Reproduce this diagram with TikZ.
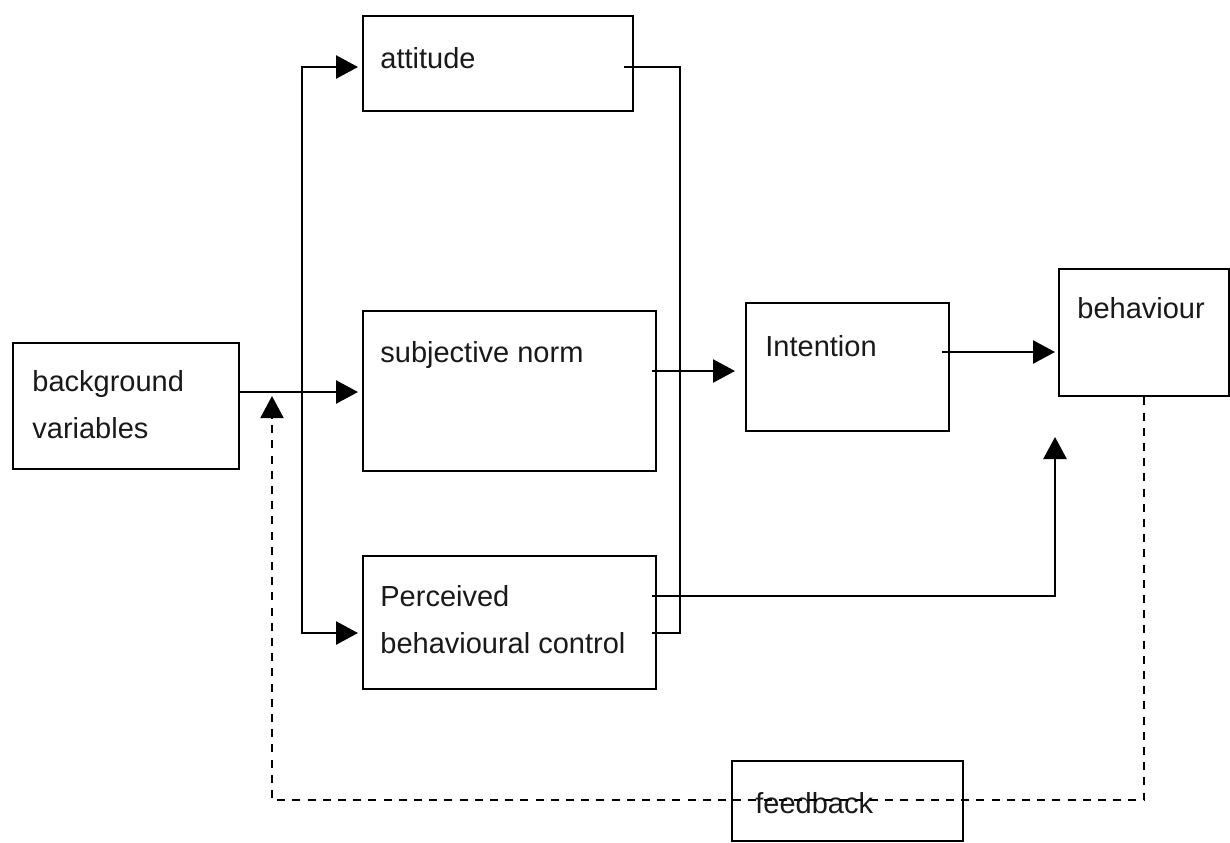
\documentclass[tikz,border=0pt]{standalone}
\usepackage{fontspec}
\setmainfont{Liberation Sans}
\usetikzlibrary{arrows.meta}
\begin{document}
\begin{tikzpicture}[x=0.5pt,y=-0.5pt,
  box/.style={draw,line width=1.2pt,inner sep=0pt,anchor=north west},
  lbl/.style={anchor=base west,inner sep=0pt,text=black!90,font=\fontsize{14.5}{23}\selectfont},
  conn/.style={line width=1.25pt},
  arr/.style={conn,-{Triangle[length=11pt,width=11.5pt]}},
  fb/.style={line width=1pt,dash pattern=on 4pt off 3.6pt,-{Triangle[length=11pt,width=11.5pt]}}]
\useasboundingbox (0,0) rectangle (1230,842);
% boxes
\node[box,minimum width=135pt,minimum height=47.5pt] (att) at (362,15) {};
\node[box,minimum width=146.5pt,minimum height=80pt] (sn) at (362,310) {};
\node[box,minimum width=146.5pt,minimum height=66.5pt] (pbc) at (362,555) {};
\node[box,minimum width=113pt,minimum height=63pt] (bg) at (12,342) {};
\node[box,minimum width=101.5pt,minimum height=64pt] (int) at (745,302) {};
\node[box,minimum width=85pt,minimum height=63.5pt] (beh) at (1058,268) {};
\node[box,minimum width=115.5pt,minimum height=40pt] (fbk) at (731,760) {};
% labels
\node[lbl] (t-att) at (380,68) {attitude};
\node[lbl] (t-sn) at (380,362) {subjective norm};
\node[lbl] (t-pbc1) at (380,606) {Perceived};
\node[lbl] (t-pbc2) at (380,653) {behavioural control};
\node[lbl] (t-bg1) at (32,391) {background};
\node[lbl] (t-bg2) at (32,438) {variables};
\node[lbl] (t-int) at (765,356) {Intention};
\node[lbl] (t-beh) at (1077,318) {behaviour};
\node[lbl] (t-fb) at (755,813) {feedback};
% junction coordinates
\coordinate (j) at (302,392);
\coordinate (rl) at (680,67);
% connectors
\draw[arr] (bg.east |- j) -- ([xshift=-2pt]sn.west |- j);
\draw[arr] (j) |- ([xshift=-2pt]att.west |- rl);
\draw[arr] (j) |- ([xshift=-2pt]pbc.west |- 0,633);
\draw[conn] ([xshift=-5pt]att.east |- rl) -- (rl) |- ([xshift=-2.5pt]pbc.east |- 0,633);
\draw[arr] ([xshift=-2.5pt]sn.east |- 0,371) -- ([xshift=-5pt]int.west |- 0,371);
\draw[arr] ([xshift=-4pt]int.east |- 0,352) -- ([xshift=-1.5pt]beh.west |- 0,352);
\draw[arr] ([xshift=-2.5pt]pbc.east |- 0,596) -| (1055,437);
\draw[fb] (beh.south) |- (272,800) -- (272,396);
\end{tikzpicture}
\end{document}
